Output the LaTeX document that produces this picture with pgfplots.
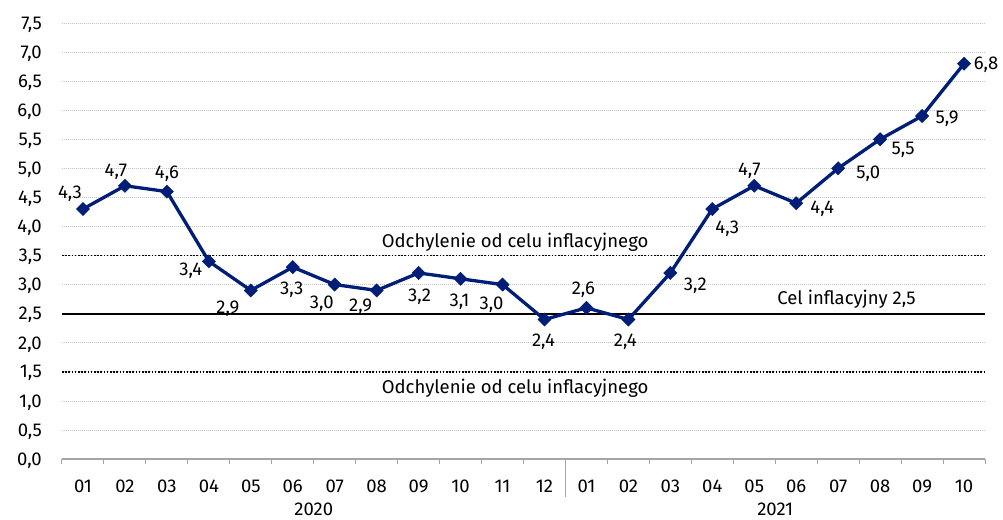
\documentclass[border=0pt]{standalone}
\usepackage{pgfplots}
\usepackage{pgfplotstable}
\pgfplotsset{compat=1.18}
\usepackage{fontspec}
\setmainfont{Fira Sans}
\definecolor{navy}{RGB}{0,30,120}
\definecolor{axgray}{RGB}{165,165,165}
\definecolor{gridgray}{RGB}{195,195,195}
\newcommand{\chartfont}{\fontsize{18.5}{22}\selectfont}

\pgfplotstableread{
x y dx dy
0 4.3 -13 17
1 4.7 -9 16
2 4.6 0 19
3 3.4 -18 -8
4 2.9 -23 -17
5 3.3 -1 -21
6 3.0 -13 -18
7 2.9 -16 -15
8 3.2 1 -22
9 3.1 -1 -21
10 3.0 -11 -19
11 2.4 -1 -21
12 2.6 -3 20
13 2.4 -3 -21
14 3.2 25 -11
15 4.3 15 -18
16 4.7 -5 17
17 4.4 26 -4
18 5.0 30 -4
19 5.5 23 -9
20 5.9 25 -1
21 6.8 22 0
}\cpi

\begin{document}
\chartfont
\begin{tikzpicture}[font=\chartfont]
\pgfkeys{/pgf/number format/.cd, fixed, fixed zerofill, precision=1, use comma, assume math mode=true}
\begin{axis}[
  font=\chartfont,
  scale only axis, width=923pt, height=436pt,
  xmin=-0.5, xmax=21.5, ymin=0, ymax=7.5,
  axis x line*=bottom, axis y line*=left,
  y axis line style={draw=none},
  x axis line style={axgray, line width=1.2pt},
  ytick={0,0.5,...,7.5},
  xtick={0,...,21},
  xticklabels={01,02,03,04,05,06,07,08,09,10,11,12,01,02,03,04,05,06,07,08,09,10},
  minor xtick={-0.5,0.5,...,21.5},
  major tick length=0pt, minor tick length=5pt, tick align=outside,
  minor tick style={axgray, line width=1pt},
  ymajorgrids,
  major grid style={gridgray, line width=0.6pt, dash pattern=on 1.2pt off 0.8pt},
  tick label style={font=\chartfont},
  yticklabel style={anchor=east, inner sep=0pt, text depth=0pt, xshift=-20pt},
  xticklabel style={anchor=center, inner sep=0pt, text depth=0pt, yshift=-27pt},
  clip=false,
]
\addplot[black, line width=1.6pt, dash pattern=on 1.6pt off 1.6pt] coordinates {(-0.5,3.5) (21.5,3.5)};
\addplot[black, line width=1.6pt, dash pattern=on 1.6pt off 1.6pt] coordinates {(-0.5,1.5) (21.5,1.5)};
\addplot[black, line width=2.2pt] coordinates {(-0.5,2.5) (21.5,2.5)};
\addplot[navy, line width=3.3pt, mark=square*, mark size=4.7pt,
  mark options={solid, rotate=45, fill=navy, line width=0.4pt},
  point meta=explicit,
  nodes near coords={\pgfmathprintnumber{\pgfplotspointmeta}},
  visualization depends on={\thisrow{dx} \as \dx},
  visualization depends on={\thisrow{dy} \as \dy},
  every node near coord/.append style={font=\chartfont, text=black, anchor=center, inner sep=0pt, text depth=0pt, xshift=\dx pt, yshift=\dy pt},
] table[x=x, y=y, meta=y]{\cpi};
\node[font=\chartfont] at (axis cs:10.3,3.73) {Odchylenie od celu inflacyjnego};
\node[font=\chartfont] at (axis cs:10.3,1.22) {Odchylenie od celu inflacyjnego};
\node[font=\chartfont] at (axis cs:18.2,2.74) {Cel inflacyjny 2,5};
\draw[axgray, line width=1pt] (axis cs:11.5,0) -- ([yshift=-38pt]axis cs:11.5,0);
\node[font=\chartfont, text depth=0pt, inner sep=0pt] at ([yshift=-50pt]axis cs:5.5,0) {2020};
\node[font=\chartfont, text depth=0pt, inner sep=0pt] at ([yshift=-50pt]axis cs:16.5,0) {2021};
\end{axis}
\pgfresetboundingbox
\path[use as bounding box] ([shift={(-62pt,-61pt)}]current axis.south west) rectangle ([shift={(18pt,23pt)}]current axis.north east);
\end{tikzpicture}
\end{document}
